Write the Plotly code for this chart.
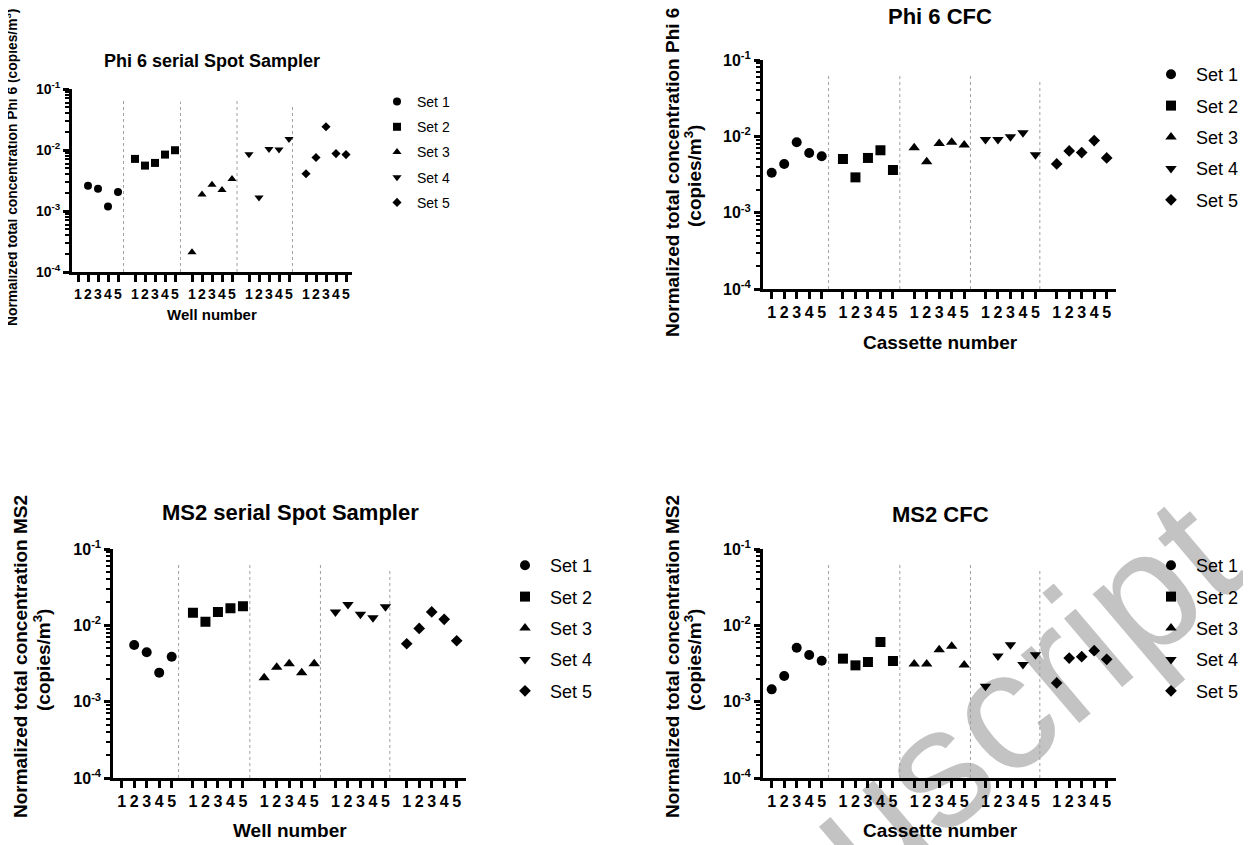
import plotly.graph_objects as go

# ---------------- data ----------------
SETS = ["Set 1", "Set 2", "Set 3", "Set 4", "Set 5"]
SYMBOLS = ["circle", "square", "triangle-up", "triangle-down", "diamond"]
POSITION_LABELS = ["1", "2", "3", "4", "5"]

# Normalized total concentration (copies/m3), rows = Set 1..5, columns = well/cassette 1..5
PHI6_SPOT = [
    [None, 2.6e-3, 2.32e-3, 1.19e-3, 2.04e-3],
    [7.15e-3, 5.55e-3, 6.14e-3, 8.41e-3, 9.91e-3],
    [2.1e-4, 1.87e-3, 2.7e-3, 2.2e-3, 3.34e-3],
    [8.5e-3, 1.67e-3, 1.04e-2, 1.02e-2, 1.52e-2],
    [4.09e-3, 7.52e-3, 2.4e-2, 8.73e-3, 8.41e-3],
]
PHI6_CFC = [
    [3.34e-3, 4.35e-3, 8.36e-3, 6.05e-3, 5.48e-3],
    [5.05e-3, 2.9e-3, 5.21e-3, 6.57e-3, 3.62e-3],
    [7.11e-3, 4.65e-3, 8.03e-3, 8.36e-3, 7.71e-3],
    [9.08e-3, 9.08e-3, 9.84e-3, 1.11e-2, 5.75e-3],
    [4.35e-3, 6.44e-3, 6.12e-3, 8.79e-3, 5.21e-3],
]
MS2_SPOT = [
    [None, 5.52e-3, 4.43e-3, 2.4e-3, 3.88e-3],
    [1.46e-2, 1.11e-2, 1.49e-2, 1.68e-2, 1.78e-2],
    [2.05e-3, 2.82e-3, 3.15e-3, 2.4e-3, 3.15e-3],
    [1.49e-2, 1.87e-2, 1.4e-2, 1.26e-2, 1.75e-2],
    [5.74e-3, 9.11e-3, 1.5e-2, 1.2e-2, 6.28e-3],
]
MS2_CFC = [
    [1.45e-3, 2.17e-3, 5.09e-3, 4.08e-3, 3.44e-3],
    [3.66e-3, 2.99e-3, 3.31e-3, 6.05e-3, 3.41e-3],
    [3.11e-3, 3.11e-3, 4.8e-3, 5.31e-3, 3.02e-3],
    [1.59e-3, 3.96e-3, 5.58e-3, 3.06e-3, 4.13e-3],
    [1.76e-3, 3.73e-3, 3.89e-3, 4.66e-3, 3.59e-3],
]

TITLES = ["Phi 6 serial Spot Sampler", "Phi 6 CFC", "MS2 serial Spot Sampler", "MS2 CFC"]
XTITLES = ["Well number", "Cassette number", "Well number", "Cassette number"]
YTITLE_MAIN = [
    "Normalized total concentration Phi 6 (copies/m<sup>3</sup>)",
    "Normalized total concentration Phi 6",
    "Normalized total concentration MS2",
    "Normalized total concentration MS2",
]
YTITLE_UNIT = [None, "(copies/m<sup>3</sup>)", "(copies/m<sup>3</sup>)", "(copies/m<sup>3</sup>)"]
Y_TICKVALS = [1e-4, 1e-3, 1e-2, 1e-1]
Y_TICKTEXT = ["10<sup>-4</sup>", "10<sup>-3</sup>", "10<sup>-2</sup>", "10<sup>-1</sup>"]
Y_MINOR_MULTIPLIERS = [2, 3, 4, 5, 6, 7, 8, 9]
DIVIDER_TOPS = [10 ** -1.18, 10 ** -1.21, 10 ** -1.18, 10 ** -1.28]
DIVIDER_OFFSETS = [0.55, 0.55, 0.5, 0.35]

# ---------------- layout helpers ----------------
W, H = 1251, 845
PAGE_OFFSET = 8  # default body margin of the html page
FONT = "Liberation Sans, Arial, sans-serif"
GROUP_STEP = 5.7


def fx(px):
    return (px - PAGE_OFFSET) / W


def fy(py):
    return 1 - (py - PAGE_OFFSET) / H


positions = [g * GROUP_STEP + i + 1 for g in range(5) for i in range(5)]
minor_vals = [m * d for d in Y_TICKVALS[:-1] for m in Y_MINOR_MULTIPLIERS]

panels = [
    dict(data=PHI6_SPOT, dx=(72, 352), dy=(89, 272), step=10.0, first=78.0,
         tick_fs=14, ms=8, title_xy=(212, 61), title_fs=18, xt_xy=(212, 314), xt_fs=15,
         yt1=(11, 168), yt2=None, yt_fs=13.8, leg_xy=(377, 86), leg_fs=14, leg_gap=4, itemw=30),
    dict(data=PHI6_CFC, dx=(763, 1116), dy=(60, 289), step=12.5, first=771.7,
         tick_fs=16, ms=10, title_xy=(940, 17), title_fs=22, xt_xy=(940, 342), xt_fs=19,
         yt1=(672, 173), yt2=(693, 176), yt_fs=19, leg_xy=(1146, 56), leg_fs=18, leg_gap=5, itemw=40),
    dict(data=MS2_SPOT, dx=(113.3, 466), dy=(549, 778), step=12.5, first=121.7,
         tick_fs=16, ms=10, title_xy=(290, 512), title_fs=22, xt_xy=(290, 830), xt_fs=19,
         yt1=(20, 657), yt2=(42, 660), yt_fs=19, leg_xy=(500, 547), leg_fs=18, leg_gap=5, itemw=40),
    dict(data=MS2_CFC, dx=(763, 1116), dy=(549, 778), step=12.5, first=771.7,
         tick_fs=16, ms=10, title_xy=(940, 514), title_fs=22, xt_xy=(940, 830), xt_fs=19,
         yt1=(672, 657), yt2=(693, 660), yt_fs=19, leg_xy=(1146, 547), leg_fs=18, leg_gap=5, itemw=40),
]

fig = go.Figure()
annotations = []
layout_axes = {}


def text_ann(text, xy, size, angle=0):
    return dict(text=text, x=fx(xy[0]), y=fy(xy[1]), textangle=angle,
                xref="paper", yref="paper", showarrow=False, xanchor="center", yanchor="middle",
                font=dict(family=FONT, size=size, color="black", weight="bold"))


for k, p in enumerate(panels):
    sfx = "" if k == 0 else str(k + 1)
    xa, ya = "x" + sfx, "y" + sfx
    leg = "legend" + sfx

    # dotted separators between sets
    for g in range(4):
        xd = g * GROUP_STEP + 5 + DIVIDER_OFFSETS[g]
        fig.add_trace(go.Scatter(
            x=[xd, xd], y=[1e-4, DIVIDER_TOPS[g]], mode="lines",
            line=dict(color="#a0a0a0", width=1, dash="dot"),
            xaxis=xa, yaxis=ya, showlegend=False, hoverinfo="skip"))

    # data points
    for s, name in enumerate(SETS):
        xs = [s * GROUP_STEP + i + 1 for i in range(5)]
        size = p["ms"] if SYMBOLS[s] != "diamond" else p["ms"] - 1
        fig.add_trace(go.Scatter(
            x=xs, y=p["data"][s], mode="markers", name=name,
            marker=dict(symbol=SYMBOLS[s], size=size, color="black"),
            xaxis=xa, yaxis=ya, legend=leg, legendgroup=f"p{k}s{s}"))

    left = 1 - (p["first"] - p["dx"][0]) / p["step"]
    right = 1 + (p["dx"][1] - p["first"]) / p["step"]
    layout_axes["xaxis" + sfx] = dict(
        domain=[fx(p["dx"][0]), fx(p["dx"][1])], anchor=ya, range=[left, right],
        tickmode="array", tickvals=positions, ticktext=POSITION_LABELS * 5, tickangle=0,
        showline=True, linecolor="#000000", linewidth=3,
        ticks="outside", ticklen=7, tickwidth=3, tickcolor="#000000",
        tickfont=dict(family=FONT, size=p["tick_fs"], color="black", weight="bold"),
        showgrid=False, zeroline=False)
    layout_axes["yaxis" + sfx] = dict(
        domain=[fy(p["dy"][1]), fy(p["dy"][0])], anchor=xa, type="log", range=[-4, -1],
        tickmode="array", tickvals=Y_TICKVALS, ticktext=Y_TICKTEXT,
        showline=True, linecolor="#000000", linewidth=3,
        ticks="outside", ticklen=6, tickwidth=3, tickcolor="#000000",
        minor=dict(tickmode="array", tickvals=minor_vals, ticks="outside",
                   ticklen=4, tickwidth=2, tickcolor="#000000", showgrid=False),
        tickfont=dict(family=FONT, size=p["tick_fs"], color="black", weight="bold"),
        showgrid=False, zeroline=False)

    layout_axes[leg] = dict(
        x=fx(p["leg_xy"][0]), y=fy(p["leg_xy"][1]), xanchor="left", yanchor="top",
        bgcolor="rgba(0,0,0,0)", tracegroupgap=p["leg_gap"], itemwidth=p["itemw"],
        font=dict(family=FONT, size=p["leg_fs"], color="black"))

    annotations.append(text_ann(TITLES[k], p["title_xy"], p["title_fs"]))
    annotations.append(text_ann(XTITLES[k], p["xt_xy"], p["xt_fs"]))
    annotations.append(text_ann(YTITLE_MAIN[k], p["yt1"], p["yt_fs"], -90))
    if YTITLE_UNIT[k]:
        annotations.append(text_ann(YTITLE_UNIT[k], p["yt2"], p["yt_fs"], -90))

# watermark (drawn beneath the data)
cx, cy, half = 885, 790, 300
ux, uy = 0.762, -0.648
wm = dict(
    type="line", xref="paper", yref="paper", layer="below",
    x0=fx(cx - half * ux), y0=fy(cy - half * uy), x1=fx(cx + half * ux), y1=fy(cy + half * uy),
    line=dict(width=0, color="rgba(0,0,0,0)"),
    label=dict(text="Manuscript", textposition="middle", yanchor="middle",
               font=dict(family=FONT, size=170, color="#c3c3c3")))

fig.update_layout(
    width=W, height=H, margin=dict(l=0, r=0, t=0, b=0, autoexpand=False),
    paper_bgcolor="white", plot_bgcolor="rgba(0,0,0,0)",
    showlegend=True, annotations=annotations, shapes=[wm],
    font=dict(family=FONT, color="black"),
    **layout_axes)

fig.write_html("out.html")
